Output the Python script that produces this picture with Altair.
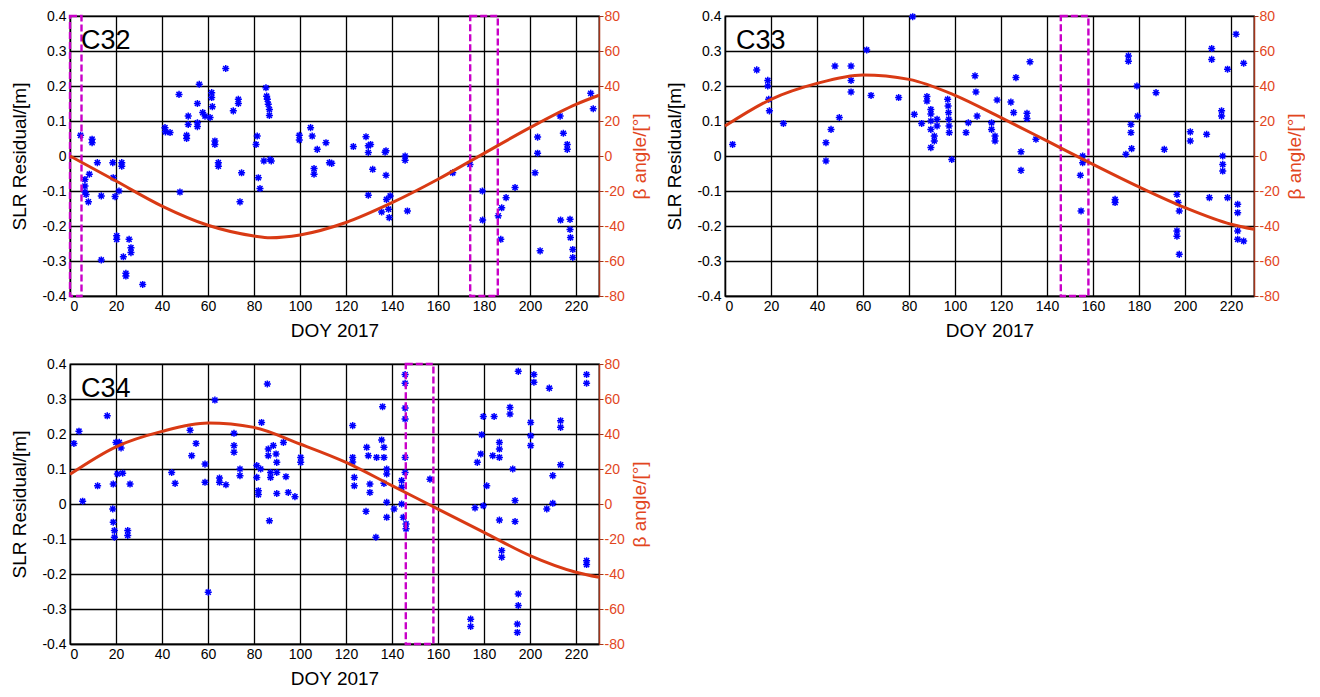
import altair as alt
import pandas as pd

# ---------------- data ----------------
c32_doy = [4.6, 6.5, 6.5, 6.5, 7.0, 8.0, 8.4, 9.6, 9.6, 11.9, 13.6, 13.6, 18.6, 18.8, 19.6,
           20.3, 20.3, 21.3, 22.5, 22.5, 23.2, 24.3, 24.3, 25.7, 26.5, 26.5, 31.6, 41.3, 41.5,
           43.5, 47.4, 47.8, 50.7, 50.7, 51.4, 51.4, 55.4, 55.4, 55.4, 56.2, 57.7, 58.7, 60.9,
           61.6, 61.6, 61.9, 63.0, 63.0, 64.5, 64.5, 67.7, 71.0, 73.2, 73.2, 73.9, 74.6, 80.9,
           81.4, 81.9, 82.6, 84.3, 85.2, 85.5, 85.8, 86.2, 86.7, 86.7, 87.0, 87.5, 99.7, 99.7,
           104.6, 105.3, 106.1, 106.1, 107.5, 111.3, 112.8, 113.8, 123.2, 128.7, 129.7, 129.7,
           130.7, 129.7, 131.6, 137.0, 137.4, 137.4, 135.5, 137.6, 138.5, 138.8, 139.2, 145.7,
           145.7, 146.7, 166.4, 173.9, 179.3, 179.4, 186.2, 187.3, 187.7, 189.6, 193.5, 202.2,
           203.3, 203.3, 204.4, 213.1, 213.3, 214.5, 216.2, 216.2, 217.4, 217.4, 217.6, 218.6,
           218.6, 226.4, 227.5]
c32_res = [0.059, -0.067, -0.086, -0.103, -0.110, -0.131, -0.052, 0.048, 0.038, -0.019, -0.114,
           -0.297, -0.019, -0.062, -0.116, -0.228, -0.238, -0.100, -0.019, -0.029, -0.288, -0.335,
           -0.343, -0.238, -0.262, -0.276, -0.367, 0.081, 0.069, 0.067, 0.176, -0.103, 0.059,
           0.050, 0.114, 0.090, 0.150, 0.095, 0.084, 0.205, 0.124, 0.114, 0.110, 0.181, 0.167,
           0.141, 0.043, 0.033, -0.019, -0.029, 0.250, 0.129, 0.162, 0.150, -0.131, -0.048,
           0.033, 0.057, -0.062, -0.093, -0.014, 0.195, 0.171, 0.162, 0.148, 0.133, 0.116,
           -0.010, -0.014, 0.059, 0.046, 0.081, 0.057, -0.036, -0.052, 0.019, 0.038, -0.019,
           -0.021, 0.027, 0.055, 0.010, 0.029, 0.033, -0.112, -0.038, 0.011, 0.015, -0.055,
           -0.160, -0.124, -0.152, -0.176, -0.114, 0.000, -0.012, -0.157, -0.048, -0.024,
           -0.100, -0.183, -0.171, -0.238, -0.148, -0.119, -0.090, -0.048, 0.054, 0.008,
           -0.271, 0.114, -0.183, 0.065, 0.033, 0.019, -0.181, -0.210, -0.233, -0.290, -0.267,
           0.179, 0.135]

c33_doy = [3.3, 13.8, 18.6, 18.6, 19.0, 19.3, 25.4, 43.9, 43.9, 46.1, 47.8, 49.7, 54.8, 54.8,
           54.8, 61.6, 63.5, 75.5, 81.6, 82.3, 85.5, 87.8, 87.8, 89.5, 89.5, 89.5, 89.5, 89.5,
           91.0, 91.0, 92.2, 92.2, 96.8, 97.0, 97.2, 97.3, 97.4, 97.5, 98.6, 104.8, 105.8,
           108.7, 109.1, 109.6, 118.3, 115.9, 115.9, 117.4, 117.4, 124.3, 125.5, 126.5, 128.7,
           128.7, 131.3, 131.3, 132.6, 135.2, 155.5, 155.5, 154.5, 154.8, 169.6, 169.6, 174.3,
           175.4, 175.4, 176.5, 176.5, 176.8, 179.1, 179.4, 187.4, 191.0, 196.5, 197.0, 197.5,
           196.5, 196.5, 197.5, 202.3, 202.3, 209.4, 210.6, 211.6, 211.6, 215.9, 215.9, 216.4,
           216.4, 216.4, 218.5, 218.5, 222.2, 222.9, 222.9, 222.9, 222.9, 225.5, 225.5]
c33_res = [0.033, 0.246, 0.216, 0.200, 0.162, 0.129, 0.093, 0.038, -0.014, 0.076, 0.257, 0.110,
           0.257, 0.216, 0.183, 0.303, 0.173, 0.167, 0.398, 0.119, 0.093, 0.170, 0.157, 0.133,
           0.120, 0.100, 0.076, 0.024, 0.057, 0.043, 0.105, 0.086, 0.162, 0.143, 0.124, 0.105,
           0.086, 0.067, -0.010, 0.067, 0.095, 0.229, 0.183, 0.114, 0.160, 0.095, 0.076, 0.043,
           0.057, 0.154, 0.124, 0.224, 0.012, -0.041, 0.122, 0.107, 0.269, 0.048, 0.000, -0.019,
           -0.055, -0.157, -0.124, -0.133, 0.005, 0.286, 0.271, 0.090, 0.067, 0.021, 0.200,
           0.114, 0.181, 0.019, -0.110, -0.133, -0.157, -0.229, -0.214, -0.281, 0.069, 0.043,
           0.062, -0.119, 0.307, 0.276, 0.114, 0.129, 0.000, -0.024, -0.043, 0.248, -0.119,
           0.348, -0.138, -0.162, -0.214, -0.238, 0.265, -0.243]

c34_doy = [1.7, 3.9, 5.5, 12.0, 16.2, 18.8, 18.6, 18.8, 19.3, 19.3, 20.0, 20.6, 21.4, 22.2,
           22.9, 25.1, 25.1, 26.1, 44.2, 45.7, 52.2, 52.9, 54.8, 58.7, 58.7, 60.1, 63.0, 65.0,
           65.0, 67.8, 71.3, 71.3, 71.3, 73.9, 73.9, 81.2, 81.2, 81.9, 81.9, 82.9, 85.8, 83.3,
           86.2, 86.2, 86.7, 87.2, 87.2, 88.4, 89.6, 89.9, 89.9, 89.9, 92.8, 93.9, 94.9, 97.8,
           100.3, 100.3, 122.9, 122.9, 122.9, 123.6, 123.6, 129.0, 129.7, 130.4, 130.4, 128.7,
           133.0, 133.3, 135.5, 135.9, 136.5, 136.5, 136.5, 137.7, 137.7, 137.7, 137.7, 140.9,
           144.2, 144.2, 144.2, 144.9, 145.7, 145.7, 145.7, 145.7, 145.7, 145.7, 146.1, 146.1,
           156.5, 176.1, 174.2, 174.2, 177.1, 178.6, 179.0, 179.7, 179.7, 181.2, 183.8, 184.4,
           186.7, 186.7, 186.7, 186.7, 187.7, 187.7, 191.3, 191.3, 192.5, 193.5, 193.5, 194.9,
           194.9, 194.9, 194.5, 194.5, 200.3, 200.3, 200.3, 201.7, 201.7, 208.4, 207.3, 209.9,
           209.9, 213.3, 213.3, 213.3, 224.6, 224.6, 224.6, 224.6]
c34_res = [0.173, 0.208, 0.008, 0.052, 0.252, 0.057, -0.014, -0.052, -0.076, -0.095, 0.176,
           0.086, 0.176, 0.160, 0.088, -0.076, -0.090, 0.057, 0.090, 0.059, 0.211, 0.138, 0.173,
           0.114, 0.062, -0.252, 0.297, 0.074, 0.062, 0.055, 0.202, 0.167, 0.148, 0.100, 0.081,
           0.110, 0.076, 0.038, 0.027, 0.100, 0.343, 0.233, 0.157, 0.138, -0.048, 0.090, 0.076,
           0.167, 0.143, 0.119, 0.090, 0.030, 0.176, 0.078, 0.033, 0.021, 0.133, 0.119, 0.224,
           0.133, 0.120, 0.076, 0.052, 0.162, 0.138, 0.057, 0.033, -0.021, -0.095, 0.133, 0.183,
           0.278, 0.162, 0.133, 0.059, 0.100, 0.086, 0.005, -0.038, -0.014, 0.067, 0.048, 0.000,
           -0.038, 0.370, 0.345, 0.274, 0.243, 0.133, 0.090, -0.057, -0.071, 0.071, -0.011,
           -0.329, -0.350, 0.119, 0.143, 0.198, 0.250, -0.005, 0.052, 0.138, 0.250, 0.176, 0.157,
           0.133, -0.046, -0.133, -0.152, 0.276, 0.257, 0.100, 0.010, -0.050, 0.379, -0.257,
           -0.290, -0.343, -0.367, 0.233, 0.195, 0.167, 0.370, 0.348, 0.331, -0.014, 0.081,
           0.002, 0.238, 0.219, 0.112, 0.370, 0.345, -0.162, -0.173]

beta_doy_32 = [0, 20, 40, 60, 80, 87, 100, 120, 140, 160, 180, 200, 220, 230]
beta_32 = [0.0, -14.3, -28.6, -39.6, -45.7, -46.7, -45.1, -38.0, -26.7, -13.3, 1.5, 16.2, 29.5, 34.7]
beta_doy_33 = [0, 20, 40, 60, 80, 100, 120, 140, 160, 180, 200, 220, 230]
beta_33 = [17.1, 32.4, 41.5, 46.3, 43.8, 34.7, 21.9, 8.6, -4.8, -17.7, -29.5, -39.0, -41.9]
beta_doy_34 = [0, 20, 40, 60, 80, 100, 120, 140, 160, 180, 200, 220, 230]
beta_34 = [17.0, 32.7, 41.5, 46.3, 43.8, 34.3, 23.8, 10.5, -2.9, -16.2, -29.5, -39.0, -41.9]

box_lo_32 = [0, 174]
box_hi_32 = [5, 186]
box_lo_33 = [146]
box_hi_33 = [158]
box_lo_34 = [146]
box_hi_34 = [158]

x_ticks = [0, 20, 40, 60, 80, 100, 120, 140, 160, 180, 200, 220]
res_ticks = [-0.4, -0.3, -0.2, -0.1, 0, 0.1, 0.2, 0.3, 0.4]
beta_ticks = [-80, -60, -40, -20, 0, 20, 40, 60, 80]

# ---------------- styling ----------------
FONT = "Liberation Sans"
BLUE = "#0000FF"
LINE_RED = "#D93A14"
TXT_RED = "#E2461E"
AXIS_RED = "#A3341A"
MAGENTA = "#C800C8"
ASTERISK = "M-1,0L1,0M0,-1L0,1M-0.72,-0.72L0.72,0.72M-0.72,0.72L0.72,-0.72"
W, H = 529, 280


def panel(name, doy, res, bdoy, beta, blo, bhi):
    pts = pd.DataFrame({"doy": doy, "res": res})
    curve = pd.DataFrame({"doy": bdoy, "beta": beta})
    boxes = pd.DataFrame({"doy": blo, "hi": bhi,
                          "bot": [-0.4] * len(blo), "top": [0.4] * len(blo)})
    lab = pd.DataFrame({"label": [name]})

    xs = alt.Scale(domain=[0, 230], nice=False, zero=False)
    xaxis = alt.Axis(values=x_ticks, title="DOY 2017", grid=True, tickSize=0,
                     labelPadding=3, titlePadding=8)
    ys = alt.Scale(domain=[-0.4, 0.4], nice=False, zero=False)
    yaxis = alt.Axis(values=res_ticks, title="SLR Residual/[m]", grid=True, tickSize=0,
                     labelPadding=4, titlePadding=12,
                     labelExpr="datum.value == 0 ? '0' : (datum.value < 0 ? '-' + format(-datum.value, '.1f') : format(datum.value, '.1f'))")

    points = alt.Chart(pts).mark_point(
        shape=ASTERISK, size=50, filled=False, stroke=BLUE, strokeWidth=1.5, opacity=1
    ).encode(
        x=alt.X("doy:Q", scale=xs, axis=xaxis),
        y=alt.Y("res:Q", scale=ys, axis=yaxis),
    )

    rect = alt.Chart(boxes).mark_rect(
        fillOpacity=0, stroke=MAGENTA, strokeWidth=2.4, strokeDash=[7, 3]
    ).encode(
        x=alt.X("doy:Q", scale=xs, axis=xaxis),
        x2="hi:Q",
        y=alt.Y("bot:Q", scale=ys, axis=yaxis),
        y2="top:Q",
    )

    text = alt.Chart(lab).mark_text(
        font=FONT, fontSize=27, align="left", baseline="alphabetic", color="black"
    ).encode(
        text="label:N", x=alt.value(11), y=alt.value(33)
    )

    left = alt.layer(points, rect, text)

    line = alt.Chart(curve).mark_line(
        color=LINE_RED, strokeWidth=3, interpolate="monotone"
    ).encode(
        x=alt.X("doy:Q", scale=xs, axis=xaxis),
        y=alt.Y("beta:Q", scale=alt.Scale(domain=[-80, 80], nice=False, zero=False),
                axis=alt.Axis(orient="right", values=beta_ticks, title="β angle/[°]",
                              grid=False, tickSize=4, tickColor=AXIS_RED,
                              domainColor=AXIS_RED, domainWidth=1.5,
                              labelColor=TXT_RED, titleColor=TXT_RED,
                              labelPadding=1, titlePadding=6,
                              titleAngle=270, titleBaseline="top",
                              labelExpr="datum.value < 0 ? '-' + (-datum.value) : '' + datum.value")),
    )

    return alt.layer(left, line).resolve_scale(y="independent").properties(width=W, height=H)


c32 = panel("C32", c32_doy, c32_res, beta_doy_32, beta_32, box_lo_32, box_hi_32)
c33 = panel("C33", c33_doy, c33_res, beta_doy_33, beta_33, box_lo_33, box_hi_33)
c34 = panel("C34", c34_doy, c34_res, beta_doy_34, beta_34, box_lo_34, box_hi_34)

chart = alt.vconcat(
    alt.hconcat(c32, c33, spacing=15),
    c34,
    spacing=15,
).properties(
    padding={"left": 10, "top": 8, "right": 0, "bottom": 0},
    background="white",
).configure_axis(
    labelFont=FONT, labelFontSize=14, labelColor="black",
    titleFont=FONT, titleFontSize=19, titleFontWeight="normal", titleColor="black",
    domainColor="black", domainWidth=1.3, gridColor="black", gridOpacity=1, gridWidth=1.3,
).configure_view(
    stroke="black", strokeWidth=1.3
)

chart.save("out.html", embed_options={"renderer": "svg", "actions": False})
